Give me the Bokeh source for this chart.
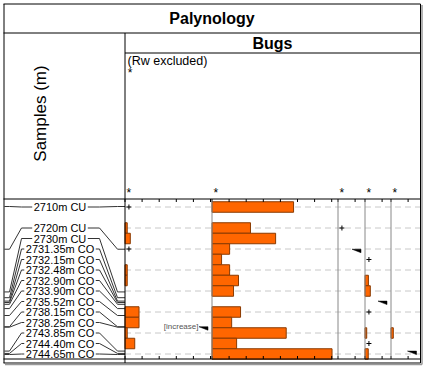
from bokeh.plotting import figure
from bokeh.models import Range1d
from bokeh.embed import file_html
from bokeh.resources import INLINE
from bokeh.core.properties import value

# ---------------- data ----------------
samples = ["2710m CU", "2720m CU", "2730m CU", "2731.35m CO", "2732.15m CO",
           "2732.48m CO", "2732.90m CO", "2733.90m CO", "2735.52m CO",
           "2738.15m CO", "2738.25m CO", "2743.85m CO", "2744.40m CO", "2744.65m CO"]
depths = [2710, 2720, 2730, 2731.35, 2732.15, 2732.48, 2732.90, 2733.90,
          2735.52, 2738.15, 2738.25, 2743.85, 2744.40, 2744.65]
row_pos = [0, 2, 3, 4, 5, 6, 7, 8, 9, 10, 11, 12, 13, 14]

col_a = [0, 1.3, 3.1, 0, 0, 1.3, 1.3, 0, 0, 8.2, 8.2, 1.3, 5.7, 0]
col_b = [47.7, 22.5, 37.2, 10.3, 5.6, 10.3, 15.5, 12.6, 0, 16.7, 11.5, 43.4, 14.4, 70.2]
col_c = [0, 0, 0, 0, 0, 0, 0, 0, 0, 0, 0, 0, 0, 0]
col_d = [0, 0, 0, 0, 0, 0, 2.0, 3.1, 0, 0, 0, 1.0, 0, 1.9]
col_e = [0, 0, 0, 0, 0, 0, 0, 0, 0, 0, 0, 1.35, 0, 0]
columns = [col_a, col_b, col_c, col_d, col_e]
col_names = ["*", "*", "*", "*", "*"]
col_ticks = [[0, 10, 20, 30, 40, 50], [0, 10, 20, 30, 40, 50, 60, 70], [0, 10], [0, 10], [0, 10]]

plus_a = ["2710m CU", "2731.35m CO"]
plus_c = ["2720m CU"]
plus_d = ["2732.15m CO", "2738.15m CO", "2744.40m CO"]
plus_marks = [plus_a, [], plus_c, plus_d, []]

wedge_depth = [2738.15, None, 2720, 2732.15, 2743.85]
wedge_text = ["[increase]", "", "", "", ""]

title = "Palynology"
group = "Bugs"
group_note = "(Rw excluded)"
axis_title = "Samples (m)"

# ---------------- layout (pixel space) ----------------
W, H = 423, 366
xr = Range1d(0, W)
yr = Range1d(H, 0)

edges = [124.5, 211.5, 337.5, 364.5, 390.5, 420.0]
PX10 = 17.1          # pixels per 10 %
ROW0, ROWH = 206.5, 10.5
D_TOP, D_BOT = 206.0, 354.0

p = figure(width=W, height=H, x_range=xr, y_range=yr, output_backend="svg",
           toolbar_location=None, min_border=0, outline_line_color=None,
           x_axis_location=None, y_axis_location=None)
p.grid.visible = False
p.background_fill_color = "white"

p.extra_y_ranges = {
    "rows": Range1d((yr.start - ROW0) / ROWH, (yr.end - ROW0) / ROWH),
    "depth": Range1d(depths[0] + (yr.start - D_TOP) * (depths[-1] - depths[0]) / (D_BOT - D_TOP),
                     depths[0] + (yr.end - D_TOP) * (depths[-1] - depths[0]) / (D_BOT - D_TOP)),
}
for i in range(5):
    x0 = edges[i]
    p.extra_x_ranges["c%d" % i] = Range1d((xr.start - x0) / PX10 * 10, (xr.end - x0) / PX10 * 10)

FONT = value("Liberation Sans")
fs = lambda s: value("%.1fpx" % s)

def yrow(r):
    return ROW0 + ROWH * r

def ydep(d):
    return D_TOP + (d - depths[0]) * (D_BOT - D_TOP) / (depths[-1] - depths[0])

# dashed grid
grid_rows = [0, 2, 4, 6, 8, 10, 12, 14]
p.segment(x0=[edges[0]] * len(grid_rows), x1=[edges[-1]] * len(grid_rows),
          y0=grid_rows, y1=grid_rows, y_range_name="rows",
          line_color="#c8c8c8", line_dash="6 4", line_width=1)

# bars, plus marks, ticks, wedges per column
for i, vals in enumerate(columns):
    rn = "c%d" % i
    ys = [row_pos[k] for k, v in enumerate(vals) if v > 0]
    vs = [v for v in vals if v > 0]
    if vs:
        p.hbar(y=ys, left=0, right=vs, height=1, x_range_name=rn, y_range_name="rows",
               fill_color="#ff6600", line_color="#8a3a00", line_width=1)
    pm = plus_marks[i]
    if pm:
        p.scatter(x=[2.3] * len(pm), y=[row_pos[samples.index(s)] for s in pm],
                  marker="cross", size=5, line_color="black", line_width=1,
                  x_range_name=rn, y_range_name="rows")
    t = col_ticks[i]
    p.segment(x0=t, x1=t, y0=[198.5] * len(t), y1=[201.5] * len(t), x_range_name=rn,
              line_color="black", line_width=1)
    p.segment(x0=t, x1=t, y0=[358.5] * len(t), y1=[355.5] * len(t), x_range_name=rn,
              line_color="black", line_width=1)
    p.text(x=[2.3], y=[192], text=[col_names[i]], x_range_name=rn, text_align="center",
           text_baseline="middle", text_font=FONT, text_font_size=fs(12), text_color="black")
    if wedge_depth[i] is not None:
        right = (edges[i + 1] - 4 - edges[i]) / PX10 * 10
        left = (edges[i + 1] - 13 - edges[i]) / PX10 * 10
        dd = (depths[-1] - depths[0]) / (D_BOT - D_TOP) * 3.5
        d = wedge_depth[i]
        p.patch(x=[left, right, right], y=[d, d, d + dd], x_range_name=rn, y_range_name="depth",
                fill_color="black", line_color="black", line_width=0.5)
        if wedge_text[i]:
            p.text(x=[left - 0.3], y=[d], text=[wedge_text[i]], x_range_name=rn, y_range_name="depth",
                   text_align="right", text_baseline="middle", text_font=FONT,
                   text_font_size=fs(8), text_color="#555555")

# column separators
p.segment(x0=edges[1:5], x1=edges[1:5], y0=[198.5] * 4, y1=[358.5] * 4,
          line_color="#888888", line_width=1)

# sample labels and connectors
EM = {'.': .278, 'm': .833, ' ': .278, 'C': .722, 'U': .722, 'O': .778}
LFS = 11
LX = 59.5
xs_l, ys_l = [], []
for s, d, r in zip(samples, depths, row_pos):
    w = sum(EM.get(c, .556) for c in s) * LFS
    yl, yd = yrow(r), ydep(d)
    lft, rgt = LX - w / 2 - 1.5, LX + w / 2 + 1.5
    if abs(yl - yd) < 0.5:
        xs_l += [[4, lft], [rgt, edges[0]]]
        ys_l += [[yl, yl], [yl, yl]]
    else:
        xs_l += [[4, 9, 21, lft], [rgt, 99, 117, edges[0]]]
        ys_l += [[yd, yd, yl, yl], [yl, yl, yd, yd]]
p.multi_line(xs=xs_l, ys=ys_l, line_color="#333333", line_width=1)
p.text(x=[LX] * len(samples), y=[yrow(r) for r in row_pos], text=samples, text_align="center",
       text_baseline="middle", text_font=FONT, text_font_size=fs(LFS), text_color="black")

# frame lines
p.segment(x0=[3, 3, 124.5, 3, 3, 124.5, 420],
          x1=[420, 420, 420, 420, 420, 124.5, 420],
          y0=[3.5, 32.5, 52.5, 198.5, 358.5, 32.5, 3.5],
          y1=[3.5, 32.5, 52.5, 198.5, 358.5, 362.5, 362.5],
          line_color="black", line_width=1)
p.segment(x0=[3.5, 3], x1=[3.5, 420], y0=[3.5, 362.5], y1=[362.5, 362.5], line_color="black", line_width=1)
p.segment(x0=[421.5, 4.5], x1=[421.5, 421.5], y0=[4.5, 364], y1=[364, 364],
          line_color="#999999", line_width=1.5)

# titles
p.text(x=[211.5], y=[18], text=[title], text_align="center", text_baseline="middle",
       text_font=FONT, text_font_size=fs(16), text_font_style="bold", text_color="black")
p.text(x=[272], y=[42.5], text=[group], text_align="center", text_baseline="middle",
       text_font=FONT, text_font_size=fs(16), text_font_style="bold", text_color="black")
p.text(x=[127], y=[60], text=[group_note], text_align="left", text_baseline="middle",
       text_font=FONT, text_font_size=fs(12.5), text_color="black")
p.text(x=[129.5], y=[72], text=["*"], text_align="center", text_baseline="middle",
       text_font=FONT, text_font_size=fs(12), text_color="black")
p.text(x=[40], y=[113], text=[axis_title], angle=1.5707963, text_align="center",
       text_baseline="middle", text_font=FONT, text_font_size=fs(17), text_color="black")

open("out.html", "w").write(file_html(p, INLINE))
